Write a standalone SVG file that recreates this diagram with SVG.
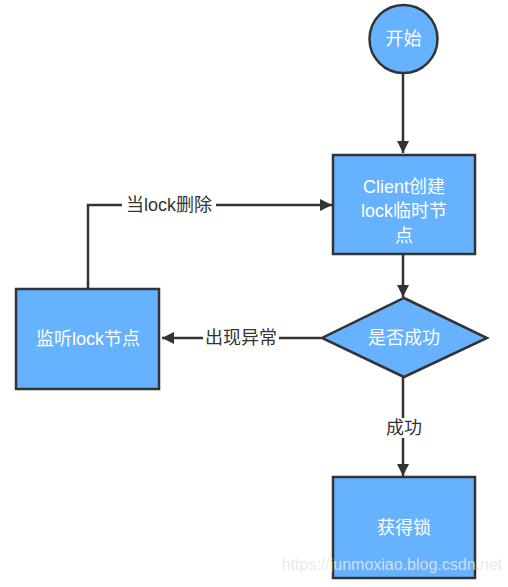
<svg xmlns="http://www.w3.org/2000/svg" width="508" height="587" viewBox="0 0 508 587">
<defs>
<style>
.node{fill:#66b2ff;stroke:#333;stroke-width:2.5}
.nt{fill:#fff;font-family:"Liberation Sans","Noto Sans CJK SC",sans-serif;font-size:18px;text-anchor:middle;dominant-baseline:central}
.edge{fill:none;stroke:#333;stroke-width:2.5}
.lbl{fill:#333;font-family:"Liberation Sans","Noto Sans CJK SC",sans-serif;font-size:18px;text-anchor:middle;dominant-baseline:central}
.lblbg{fill:#fff}
</style>
<marker id="ah" viewBox="0 0 12 12" refX="12" refY="6" markerWidth="12" markerHeight="12" markerUnits="userSpaceOnUse" orient="auto">
<path d="M0,0 L12,6 L0,12 z" fill="#333"/>
</marker>
</defs>
<rect width="508" height="587" fill="#fff"/>
<g id="edges">
<line class="edge" x1="403" y1="73" x2="403" y2="153" marker-end="url(#ah)"/>
<line class="edge" x1="403" y1="254" x2="403" y2="297" marker-end="url(#ah)"/>
<line class="edge" x1="403" y1="377" x2="403" y2="476" marker-end="url(#ah)"/>
<line class="edge" x1="321" y1="338" x2="162" y2="338" marker-end="url(#ah)"/>
<polyline class="edge" points="88,288 88,205 332,205" marker-end="url(#ah)"/>
<rect class="lblbg" x="122" y="195" width="94" height="20"/>
<text class="lbl" x="169" y="205">当lock删除</text>
<rect class="lblbg" x="203" y="328" width="76" height="20"/>
<text class="lbl" x="241" y="338">出现异常</text>
<rect class="lblbg" x="384" y="418" width="40" height="20"/>
<text class="lbl" x="404" y="428">成功</text>
</g>
<g id="start">
<circle class="node" cx="403.5" cy="39" r="34"/>
<text class="nt" x="403.5" y="39">开始</text>
</g>
<g id="create">
<rect class="node" x="333" y="155" width="142" height="99"/>
<text class="nt" x="404" y="187">Client创建</text>
<text class="nt" x="404" y="211">lock临时节</text>
<text class="nt" x="404" y="236">点</text>
</g>
<g id="decision">
<polygon class="node" points="404,298 487,338 404,377 322,338"/>
<text class="nt" x="404" y="338">是否成功</text>
</g>
<g id="listen">
<rect class="node" x="16" y="289" width="143" height="100"/>
<text class="nt" x="88" y="339">监听lock节点</text>
</g>
<g id="acquire">
<rect class="node" x="333" y="477" width="142" height="101"/>
<text class="nt" x="404" y="528">获得锁</text>
</g>
<text x="392" y="570" fill="#e6e6e6" fill-opacity="0.85" font-family="Liberation Sans,sans-serif" font-size="16" text-anchor="middle">https://junmoxiao.blog.csdn.net</text>
</svg>
